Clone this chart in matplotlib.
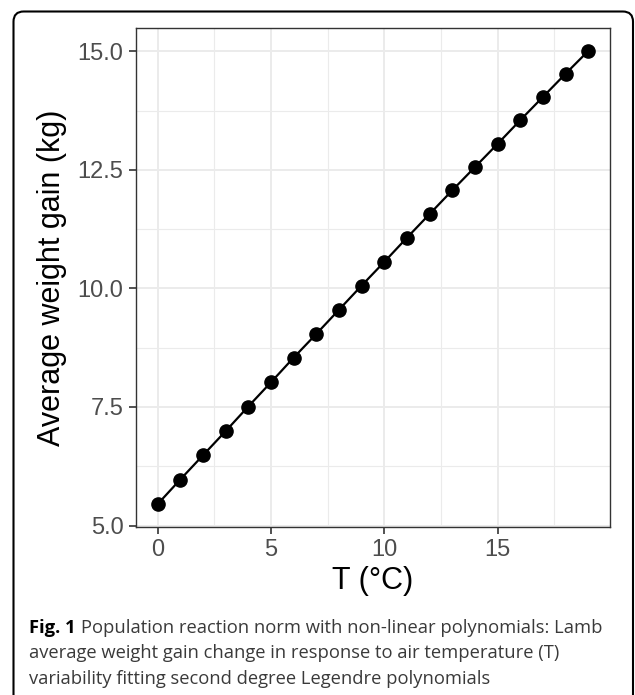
import matplotlib
matplotlib.use("Agg")
import matplotlib.pyplot as plt
from matplotlib.patches import FancyBboxPatch

# data
temperature = [0, 1, 2, 3, 4, 5, 6, 7, 8, 9, 10, 11, 12, 13, 14, 15, 16, 17, 18, 19]
weight_gain = [5.45, 5.97, 6.48, 6.99, 7.51, 8.02, 8.54, 9.04, 9.55, 10.06,
               10.56, 11.07, 11.57, 12.07, 12.56, 13.05, 13.55, 14.04, 14.53, 15.01]
x_ticks = [0, 5, 10, 15]
y_ticks = [5.0, 7.5, 10.0, 12.5, 15.0]
caption_bold = "Fig. 1"
caption_lines = [
    "Population reaction norm with non-linear polynomials: Lamb",
    "average weight gain change in response to air temperature (T)",
    "variability fitting second degree Legendre polynomials",
]

W, H = 635, 695
fig = plt.figure(figsize=(W / 100, H / 100), dpi=100)
plt.rcParams["font.family"] = ["Liberation Sans", "DejaVu Sans"]

# outer rounded frame (open at the bottom edge of the image)
frame = FancyBboxPatch((13.5 / W, -0.2), (633 - 13.5) / W, (H - 11.5) / H + 0.2,
                       boxstyle="round,pad=0,rounding_size=0.016",
                       transform=fig.transFigure, fill=False,
                       edgecolor="black", linewidth=1.5, mutation_aspect=W / H)
fig.patches.append(frame)

left, right, top, bottom = 136, 610, 28, 527
ax = fig.add_axes([left / W, (H - bottom) / H, (right - left) / W, (bottom - top) / H])

ax.plot(temperature, weight_gain, color="black", linewidth=1.6, zorder=3)
ax.plot(temperature, weight_gain, "o", color="black", markersize=9.5, zorder=4)

ax.set_xlim(-0.95, 19.95)
ax.set_ylim(4.97, 15.49)
ax.set_xticks(x_ticks)
ax.set_yticks(y_ticks)
ax.set_yticklabels([f"{v:.1f}" for v in y_ticks])
ax.set_xticks([2.5, 7.5, 12.5, 17.5], minor=True)
ax.set_yticks([6.25, 8.75, 11.25, 13.75], minor=True)

ax.grid(which="major", color="#EBEBEB", linewidth=1.4, zorder=0)
ax.grid(which="minor", color="#EBEBEB", linewidth=0.8, zorder=0)
ax.set_axisbelow(True)

for s in ax.spines.values():
    s.set_color("#333333")
    s.set_linewidth(1.0)

ax.tick_params(which="major", length=5, width=1.2, color="#333333",
               labelsize=17, labelcolor="#4D4D4D", pad=4)
ax.tick_params(which="minor", length=0)

ax.set_xlabel("T (°C)", fontsize=22, color="black", labelpad=3)
ax.set_ylabel("Average weight gain (kg)", fontsize=22, color="black", labelpad=8)

# caption
cap_font = ["Open Sans", "DejaVu Sans"]
cap_size = 13.2
line_y = [633, 658.5, 684]
t = fig.text(29 / W, 1 - line_y[0] / H, caption_bold, fontsize=cap_size, fontweight="bold",
             family=cap_font, color="black", va="baseline")
fig.canvas.draw()
bb = t.get_window_extent()
fig.text((bb.x1 + 5) / W, 1 - line_y[0] / H, caption_lines[0], fontsize=cap_size,
         family=cap_font, color="#3A3A3A", va="baseline")
for line, y in zip(caption_lines[1:], line_y[1:]):
    fig.text(29 / W, 1 - y / H, line, fontsize=cap_size, family=cap_font,
             color="#3A3A3A", va="baseline")

plt.savefig("out.png", dpi=100)
plt.close()
